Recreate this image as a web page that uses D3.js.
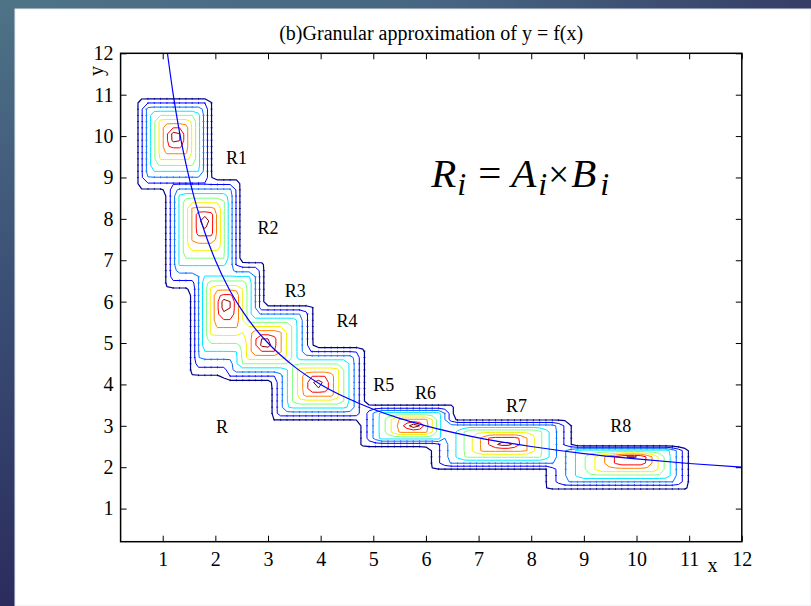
<!DOCTYPE html>
<html>
<head>
<meta charset="utf-8">
<script src="https://cdn.jsdelivr.net/npm/d3@7"></script>
<style>
  html, body { margin: 0; padding: 0; background: #fff; }
  svg { display: block; }
  text { font-family: "Liberation Serif", "Times New Roman", Times, serif; fill: #000; }
</style>
</head>
<body>
<svg id="chart" width="811" height="606"></svg>
<script>
// Granules R_i = A_i x B_i : core of A_i (x), core of B_i (y) and triangular spreads per side
const granuleNames = ["R1", "R2", "R3", "R4", "R5", "R6", "R7", "R8"];
const peakX       = [1.25, 1.80, 2.20, 2.95, 3.95, 5.80, 7.50, 9.95];
const peakY       = [10.0, 7.95, 5.95, 5.00, 4.00, 3.00, 2.60, 2.22];
const spreadLeft  = [0.80, 0.82, 0.74, 0.90, 0.97, 1.15, 1.55, 1.85];
const spreadRight = [0.75, 0.74, 0.80, 1.00, 0.98, 0.80, 1.40, 1.15];
const spreadBelow = [1.42, 1.80, 1.92, 1.00, 0.95, 0.53, 0.72, 0.82];
const spreadAbove = [1.00, 1.10, 1.10, 1.00, 0.99, 0.53, 0.60, 0.32];

// Membership grades drawn as contour lines, with their jet colours
const levels      = [0.1, 0.2, 0.3, 0.4, 0.5, 0.6, 0.7, 0.8, 0.9];
const levelColors = ["#00008f", "#0000ff", "#0070ff", "#00e8ff", "#80ff80",
                     "#f4f400", "#ff8000", "#ff0000", "#8f0000"];

// Points of the function y = f(x)
const curveX = [1.09, 1.2, 1.3, 1.4, 1.5, 1.6, 1.8, 2.0, 2.25, 2.5, 2.75, 3.0, 3.5,
                4.0, 4.5, 5.0, 5.5, 6.0, 7.0, 8.0, 9.0, 10.0, 11.0, 12.0];
const curveY = [12.0, 11.0, 10.23, 9.57, 9.0, 8.5, 7.67, 7.0, 6.33, 5.8, 5.36, 5.0, 4.43,
                4.0, 3.67, 3.4, 3.18, 3.0, 2.71, 2.5, 2.33, 2.2, 2.09, 2.0];

// Axis ticks
const xTicks = [1, 2, 3, 4, 5, 6, 7, 8, 9, 10, 11, 12];
const yTicks = [1, 2, 3, 4, 5, 6, 7, 8, 9, 10, 11, 12];

// Region labels and their anchor points in data space
const labelText = ["R1", "R2", "R3", "R4", "R5", "R6", "R7", "R8", "R"];
const labelAtX  = [2.20, 2.80, 3.32, 4.30, 5.00, 5.79, 7.52, 9.50, 2.01];
const labelAtY  = [9.33, 7.64, 6.12, 5.38, 3.83, 3.64, 3.34, 2.85, 2.82];

const title = "(b)Granular approximation of y = f(x)";

const svg = d3.select("#chart");
const W = 811, H = 606;
const plot = { left: 120.6, right: 741.8, top: 53.3, bottom: 541.7 };

const x = d3.scaleLinear().domain([0.2, 12]).range([plot.left, plot.right]);
const y = d3.scaleLinear().domain([0.2, 12]).range([plot.bottom, plot.top]);

// ---- slide frame behind the figure ----
const defs = svg.append("defs");
const topBand = defs.append("linearGradient").attr("id", "topBand")
  .attr("x1", 0).attr("y1", 0).attr("x2", 1).attr("y2", 0);
topBand.append("stop").attr("offset", "0%").attr("stop-color", "#4f7387");
topBand.append("stop").attr("offset", "55%").attr("stop-color", "#476582");
topBand.append("stop").attr("offset", "100%").attr("stop-color", "#363d66");
const sideBand = defs.append("linearGradient").attr("id", "sideBand")
  .attr("x1", 0).attr("y1", 0).attr("x2", 0).attr("y2", 1);
sideBand.append("stop").attr("offset", "0%").attr("stop-color", "#4e7387");
sideBand.append("stop").attr("offset", "50%").attr("stop-color", "#3a4d74");
sideBand.append("stop").attr("offset", "100%").attr("stop-color", "#2b2c5d");
defs.append("clipPath").attr("id", "plotClip").append("rect")
  .attr("x", plot.left).attr("y", plot.top)
  .attr("width", plot.right - plot.left).attr("height", plot.bottom - plot.top);

svg.append("rect").attr("width", W).attr("height", H).attr("fill", "url(#topBand)");
svg.append("rect").attr("width", 15).attr("height", H).attr("fill", "url(#sideBand)");
svg.append("rect").attr("x", 15).attr("y", 9).attr("width", W - 15).attr("height", H - 9)
  .attr("fill", "#fff").attr("stroke", "#e6eaee").attr("stroke-width", 1);

// ---- membership field on a sampling mesh ----
const dx = 0.12, dy = 0.15;
const nx = Math.round(12 / dx) + 1, ny = Math.round(12 / dy) + 1;
function tri(t, c, l, r) {
  return t < c ? Math.max(0, 1 - (c - t) / l) : Math.max(0, 1 - (t - c) / r);
}
const grades = new Float64Array(nx * ny);
for (let j = 0; j < ny; j++) {
  const yv = j * dy;
  for (let i = 0; i < nx; i++) {
    const xv = i * dx;
    let m = 0;
    for (let k = 0; k < peakX.length; k++) {
      const a = tri(xv, peakX[k], spreadLeft[k], spreadRight[k]);
      const b = tri(yv, peakY[k], spreadBelow[k], spreadAbove[k]);
      m = Math.max(m, Math.min(a, b));
    }
    grades[j * nx + i] = m;
  }
}
const contours = d3.contours().size([nx, ny]).thresholds(levels)(grades);

const toPx = p => [x((p[0] - 0.5) * dx), y((p[1] - 0.5) * dy)];
const ringPath = d3.line().curve(d3.curveLinearClosed);

// small mesh stubs along the straight runs of the outer contour lines
function ringTicks(pts) {
  let d = "";
  const n = pts.length;
  for (let k = 0; k < n; k++) {
    const a = pts[(k - 1 + n) % n], b = pts[(k + 1) % n], p = pts[k];
    let ux = b[0] - a[0], uy = b[1] - a[1];
    const len = Math.hypot(ux, uy);
    if (!len) continue;
    ux /= len; uy /= len;
    if (Math.abs(ux) > 0.2 && Math.abs(uy) > 0.2) continue;
    const tx = -uy * 1.0, ty = ux * 1.0;
    d += `M${(p[0] - tx).toFixed(2)},${(p[1] - ty).toFixed(2)}L${(p[0] + tx).toFixed(2)},${(p[1] + ty).toFixed(2)}`;
  }
  return d;
}

const field = svg.append("g").attr("clip-path", "url(#plotClip)");
contours.forEach((c, li) => {
  const color = levelColors[levels.indexOf(c.value)];
  const rings = [];
  c.coordinates.forEach(poly => poly.forEach(ring => {
    rings.push(ring.slice(0, -1).map(toPx));
  }));
  field.append("path")
    .attr("d", rings.map(r => ringPath(r)).join(""))
    .attr("fill", "none").attr("stroke", color)
    .attr("stroke-width", li === 0 ? 1.2 : 1).attr("stroke-linejoin", "round");
  if (li < 3) {
    field.append("path")
      .attr("d", rings.map(ringTicks).join(""))
      .attr("fill", "none").attr("stroke", color).attr("stroke-width", 0.8);
  }
});

// ---- y = f(x) ----
const curvePts = curveX.map((v, i) => [v, curveY[i]]);
field.append("path")
  .attr("d", d3.line().x(d => x(d[0])).y(d => y(d[1])).curve(d3.curveMonotoneX)(curvePts))
  .attr("fill", "none").attr("stroke", "#0000ff").attr("stroke-width", 1.2);

// ---- axes (ticks inside the box on all four sides) ----
function styleAxis(g) {
  g.select(".domain").remove();
  g.selectAll(".tick line").attr("stroke", "#000").attr("stroke-width", 1);
  g.selectAll("text").attr("font-size", 20).attr("fill", "#000")
    .attr("font-family", '"Liberation Serif", "Times New Roman", serif');
  g.attr("font-family", null).attr("font-size", null);
}
svg.append("g").attr("transform", `translate(0,${plot.bottom})`)
  .call(d3.axisBottom(x).tickValues(xTicks).tickSizeInner(-6).tickSizeOuter(0)
    .tickPadding(10).tickFormat(d3.format("d")))
  .call(styleAxis);
svg.append("g").attr("transform", `translate(${plot.left},0)`)
  .call(d3.axisLeft(y).tickValues(yTicks).tickSizeInner(-6).tickSizeOuter(0)
    .tickPadding(7).tickFormat(d3.format("d")))
  .call(styleAxis);
svg.append("g").attr("transform", `translate(0,${plot.top})`)
  .call(d3.axisTop(x).tickValues(xTicks).tickSizeInner(-6).tickSizeOuter(0).tickFormat(""))
  .call(styleAxis);
svg.append("g").attr("transform", `translate(${plot.right},0)`)
  .call(d3.axisRight(y).tickValues(yTicks).tickSizeInner(-6).tickSizeOuter(0).tickFormat(""))
  .call(styleAxis);
svg.append("rect")
  .attr("x", plot.left).attr("y", plot.top)
  .attr("width", plot.right - plot.left).attr("height", plot.bottom - plot.top)
  .attr("fill", "none").attr("stroke", "#000").attr("stroke-width", 1.5);

// ---- texts ----
svg.append("text").attr("x", (plot.left + plot.right) / 2).attr("y", 40)
  .attr("text-anchor", "middle").attr("font-size", 20).text(title);
svg.append("text").attr("x", 712.5).attr("y", 572).attr("text-anchor", "middle")
  .attr("font-size", 20).text("x");
svg.append("text").attr("transform", "translate(103,71) rotate(-90)")
  .attr("text-anchor", "middle").attr("font-size", 20).text("y");

svg.append("g").selectAll("text").data(labelText).join("text")
  .attr("x", (d, i) => x(labelAtX[i])).attr("y", (d, i) => y(labelAtY[i]))
  .attr("font-size", 18).text(d => d);

// R_i = A_i x B_i
const formula = svg.append("g").attr("transform", `translate(${x(6.1)},${y(8.78)})`);
const pieces = [
  { t: "R", dx: 0,     sub: false, it: true,  size: 41 },
  { t: "i", dx: 26,    sub: true,  it: true,  size: 32 },
  { t: "=", dx: 47,    sub: false, it: false, size: 41 },
  { t: "A", dx: 80,    sub: false, it: true,  size: 41 },
  { t: "i", dx: 107,   sub: true,  it: true,  size: 32 },
  { t: "\u00d7", dx: 117, sub: false, it: false, size: 37 },
  { t: "B", dx: 140,   sub: false, it: true,  size: 41 },
  { t: "i", dx: 169,   sub: true,  it: true,  size: 32 }
];
formula.selectAll("text").data(pieces).join("text")
  .attr("x", d => d.dx).attr("y", d => d.sub ? 8 : 0)
  .attr("font-size", d => d.size)
  .attr("font-style", d => d.it ? "italic" : "normal")
  .text(d => d.t);
</script>
</body>
</html>
